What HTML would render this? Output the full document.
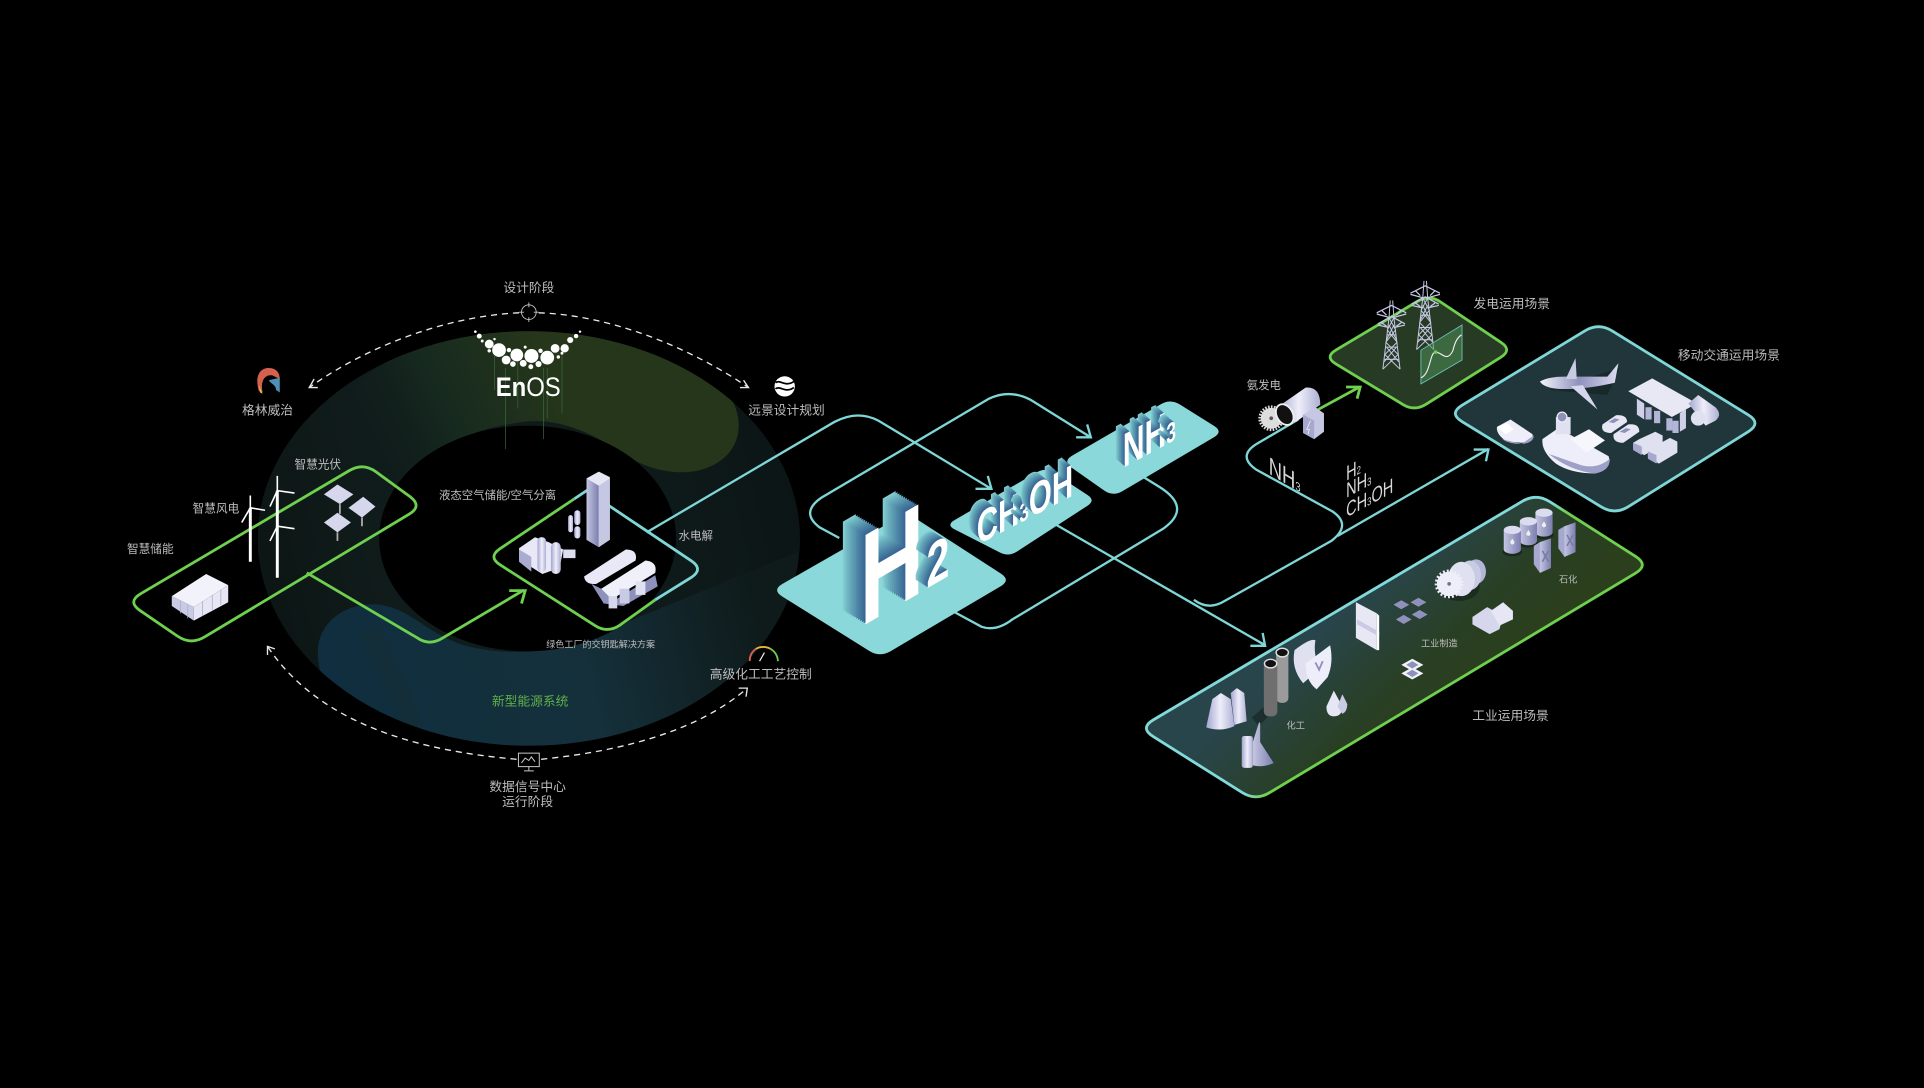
<!DOCTYPE html>
<html><head><meta charset="utf-8"><style>
html,body{margin:0;padding:0;background:#000;width:1924px;height:1088px;overflow:hidden}
svg{position:absolute;left:0;top:0}
svg text{font-family:"Liberation Sans","Noto Sans CJK SC",sans-serif;fill:#bcbcbc;text-anchor:middle;font-size:10.4px}
#o{position:absolute;left:0;top:0;width:1568px;height:887px;transform:scale(1.22704,1.22661);transform-origin:0 0}
.x{position:absolute;left:0;top:0;white-space:nowrap;line-height:0;transform-origin:0 0;color:#fff;font-family:"Liberation Sans",sans-serif;font-weight:bold;
text-shadow:calc(var(--a)*1) calc(var(--b)*1) 0 #3a6894,calc(var(--a)*2) calc(var(--b)*2) 0 #3f7099,calc(var(--a)*3) calc(var(--b)*3) 0 #44789e,calc(var(--a)*4) calc(var(--b)*4) 0 #4a81a3,calc(var(--a)*5) calc(var(--b)*5) 0 #5089a8,calc(var(--a)*6) calc(var(--b)*6) 0 #5692ad,calc(var(--a)*7) calc(var(--b)*7) 0 #5c9bb2,calc(var(--a)*8) calc(var(--b)*8) 0 #62a4b7,calc(var(--a)*9) calc(var(--b)*9) 0 #69adbc,calc(var(--a)*10) calc(var(--b)*10) 0 #70b6c2,calc(var(--a)*11) calc(var(--b)*11) 0 #78c0c8,calc(var(--a)*12) calc(var(--b)*12) 0 #82ccd0}
.x small{font-size:.58em}
</style></head><body>
<svg width="1924" height="1088" viewBox="0 0 1568 887" preserveAspectRatio="none" xmlns="http://www.w3.org/2000/svg">
<defs>
<clipPath id="ring"><path clip-rule="evenodd" d="M210,439a221,169 0 1 0 442,0a221,169 0 1 0 -442,0ZM309,439a121,92 0 1 0 242,0a121,92 0 1 0 -242,0Z"/></clipPath>
<linearGradient id="gb" gradientUnits="userSpaceOnUse" x1="210" x2="652" y1="500" y2="400"><stop offset="0" stop-color="#0c1514"/><stop offset=".25" stop-color="#101c1b"/><stop offset=".7" stop-color="#0f1b1b"/><stop offset="1" stop-color="#0c1515"/></linearGradient>
<linearGradient id="gg" gradientUnits="userSpaceOnUse" x1="300" x2="450" y1="380" y2="310"><stop offset="0" stop-color="#101c1b" stop-opacity="0"/><stop offset=".45" stop-color="#16291f"/><stop offset="1" stop-color="#25361a"/></linearGradient>
<linearGradient id="gl" gradientUnits="userSpaceOnUse" x1="259" x2="640" y1="560" y2="470"><stop offset="0" stop-color="#0f2e3f"/><stop offset=".55" stop-color="#15303b"/><stop offset=".92" stop-color="#0f1b1b"/></linearGradient>
<linearGradient id="gi" gradientUnits="userSpaceOnUse" x1="1090" y1="500" x2="1175" y2="590"><stop offset="0" stop-color="#29454c"/><stop offset=".6" stop-color="#293f25"/><stop offset="1" stop-color="#2b3f1c"/></linearGradient>
<linearGradient id="gs" gradientUnits="userSpaceOnUse" x1="1090" y1="500" x2="1175" y2="590"><stop offset=".45" stop-color="#82d9d9"/><stop offset=".55" stop-color="#6fd04f"/></linearGradient>
<linearGradient id="cy" x1="0" x2="1" y1="0" y2="0"><stop offset="0" stop-color="#a3a5cf"/><stop offset=".5" stop-color="#eeeefa"/><stop offset="1" stop-color="#aeb0d4"/></linearGradient>
<linearGradient id="ba" x1="0" x2="1" y1="0" y2="0"><stop offset="0" stop-color="#c5c6e2"/><stop offset="1" stop-color="#7b7eae"/></linearGradient>
<linearGradient id="pl" x1="0" x2="1" y1="0" y2="0"><stop offset="0" stop-color="#f4f4fc"/><stop offset=".5" stop-color="#8f91bd"/><stop offset="1" stop-color="#dcdcf0"/></linearGradient>
<g id="tw" fill="none" stroke="#c7c9e6" stroke-width=".8">
<path d="M-7,0L-2,-42L-1,-56M7,0L2,-42L1,-56M-7,0L5.4,-12L-4.600,-22L3.400,-32L-2,-42M7,0L-5.400,-12L4.600,-22L-3.400,-32L2,-42M-6,-8H6M-4.800,-18H4.800M-3.600,-28H3.600M-6,-6L4,-18M6,-6L-4,-18M-4,-24L2,-36M4,-24L-2,-36"/>
<path d="M-11,-37L0,-43L11,-37M-12,-46L0,-52L12,-46M-11,-36L-2,-34M11,-36L2,-34M-12,-45L-1,-42M12,-45L1,-42M-8,-38L-4,-35M8,-38L4,-35M-8,-48L-4,-44M8,-48L4,-44" stroke-width="1"/>
</g>
<g id="bar"><ellipse cx="0" cy="10" rx="8" ry="3.500" fill="#000" opacity=".35"/><path d="M-7,-8V8A7,3.500 0 0 0 7,8V-8Z" fill="url(#ba)"/><ellipse cx="0" cy="-8" rx="7" ry="3.400" fill="#dcdcf0"/><path d="M0,-1l1.500,2.400a1.700,1.700 0 1 1 -3,0Z" fill="#eee"/></g>
<g id="can"><path d="M-7,2L-7,-13L-2,-16L7,-19V5L-2,9L-7,2Z" fill="#a6a8cf"/><path d="M-2,-16L-2,9L7,5V-19Z" fill="url(#ba)"/><path d="M0,-9L5,0M5,-9L0,0" stroke="#777aa6" stroke-width="1.200" fill="none"/></g>
</defs>
<rect width="1568" height="887" fill="#000"/>

<g clip-path="url(#ring)">
<rect x="200" y="260" width="460" height="360" fill="url(#gb)"/>
<path d="M260,340C340,260 400,262 431,262C520,262 600,300 602,345C603,372 578,386 553,385C530,384 515,375 500,365C470,345 440,340 420,345C380,350 340,370 310,420Z" fill="url(#gg)"/>
<path d="M259,532C259,505 285,490 310,493C335,497 345,514 375,525C400,533 430,533 460,528L650,450L660,620L300,620C280,590 259,560 259,532Z" fill="url(#gl)"/>
<path d="M292,515L310,510L345,590L330,592Z" fill="#152e31" opacity=".5"/>
</g>

<!-- EnOS logo -->
<g stroke="#3b6b3a" stroke-width=".7" opacity=".8"><path d="M403,290V318M412,300V366M422,292V333M443,300V358M446,300V341M458,290V337"/></g>
<g fill="#fff"><circle cx="406.700" cy="285.400" r="5.600"/><circle cx="421.200" cy="289.400" r="5.200"/><circle cx="433.100" cy="290.200" r="5.700"/><circle cx="446" cy="291.600" r="5.600"/><circle cx="398.700" cy="280.500" r="3.600"/><circle cx="452.400" cy="284" r="3.600"/><circle cx="460.200" cy="284" r="3.400"/><circle cx="464.700" cy="277.200" r="2.500"/><circle cx="469.500" cy="274" r="1.800"/><circle cx="472.700" cy="270.400" r="1"/><circle cx="390.600" cy="274" r="2"/><circle cx="387.400" cy="270.400" r="1.100"/><circle cx="412.500" cy="293.500" r="3.600"/><circle cx="418" cy="296.800" r="2.300"/><circle cx="426.400" cy="296.200" r="2.800"/><circle cx="432.600" cy="299" r="2"/><circle cx="438.900" cy="296.800" r="2.500"/><circle cx="414.800" cy="285.400" r="1.800"/><circle cx="440.500" cy="286" r="1.800"/><circle cx="398.700" cy="286" r="1.400"/><circle cx="455" cy="291" r="1.400"/><circle cx="458" cy="288" r="1.200"/><circle cx="393" cy="278" r="1.200"/><circle cx="403" cy="276.500" r="1"/><circle cx="428" cy="283" r="1.200"/></g>
<text x="430.500" y="323" style="font-size:22px;fill:#fff;font-weight:bold" textLength="53" lengthAdjust="spacingAndGlyphs">En<tspan font-weight="normal">OS</tspan></text>

<!-- dashed arcs -->
<g fill="none" stroke="#e8e8e8" stroke-width="1.100">
<path stroke-dasharray="5 4" d="M423,255C360,258 295,285 252,316"/>
<path stroke-dasharray="5 4" d="M439,255C500,257 565,285 610,316"/>
<path stroke-dasharray="5 4" d="M421,619C340,612 260,590 218,527"/>
<path stroke-dasharray="5 4" d="M441,619C510,612 570,595 609,561"/>
<path d="M256,309L252,316L259,316M606,310L610,316L603,316M218,534L218,527L224,529M602,561L609,561L608,568"/>
<circle cx="431" cy="254.500" r="6" stroke="#ccc" stroke-width=".7"/><path d="M431,246.500v4M431,258.500v4M423,254.500h4M435,254.500h4" stroke="#ccc" stroke-width=".7"/>
<rect x="422.500" y="614" width="17" height="11" stroke="#ccc" stroke-width=".8"/><path d="M425,622l3,-4l3,2l2,-3l3,4M431,625v3M427,628.500h8" stroke="#ccc" stroke-width=".8"/>
</g>

<!-- connector lines -->
<g fill="none" stroke="#7fd6d6" stroke-width="1.900">
<path d="M527,434L680,344Q699,334 716,343L807,398M795,398.500H808L805,388"/>
<path d="M684,438.600L668,430Q652,418 669,406L806,325Q823,317 840,326L888,356M877,356.500H889L886,346"/>
<path d="M776,498L800,511Q812,515 825,505L948,431Q972,414 945,397L932,389"/>
<path d="M861,428L1031,526M1019,526.500H1031L1029,516"/>
<path d="M973,489Q985,498 998,490L1085,441Q1102,428 1086,417L1024,383Q1008,372 1024,362L1058,342"/>
<path d="M1090,437L1213,366M1201,366.500H1213L1211,376"/>
</g>
<g fill="none" stroke="#6fd04f" stroke-width="2.300">
<path d="M250,467L340,520Q350,527 361,520L427,481M415,481.500H428L425,492"/>
<path d="M1074,334L1108,315.500M1097,315.500H1108.500L1106,325"/>
</g>

<!-- plates -->
<path d="M284.800,383.600Q296,377 306.500,384.700L334,404.800Q344.500,412.500 333.400,419.200L166.700,519.300Q155.600,526 144.800,518.700L114.300,497.900Q103.500,490.600 114.700,484Z" fill="none" stroke="#6fd04f" stroke-width="2.300"/>
<path d="M534,489L505,509.800Q495,516.500 484.900,510L407.600,460.500Q397.500,454 407.500,447.300L468,406.700" fill="none" stroke="#6fd04f" stroke-width="2.300"/>
<path d="M468,406.700L478,400L488,406.700L563.500,457.300Q573.500,464 563.500,470.700L534,489" fill="none" stroke="#7fd6d6" stroke-width="2.300"/>
<path d="M637.500,486.300L708.500,530.700Q717,536 725.600,531L815.400,478Q824,473 815.600,467.600L747.400,423.400Q739,418 730.300,423L637.700,476Q629,481 637.500,486.300Z" fill="#8ad8d9"/>
<path d="M778,431.600L814.900,450.400Q822,454 828.700,449.700L886.300,412.300Q893,408 886.300,403.600L858.700,385.400Q852,381 845,385L777.900,424Q771,428 778,431.600Z" fill="#8ad8d9"/>
<path d="M873.300,381.200L899.700,399.800Q907,405 914.800,400.400L989.200,356.600Q997,352 989.400,347.200L961.600,329.800Q954,325 946.200,329.500L873.800,371.500Q866,376 873.300,381.200Z" fill="#8ad8d9"/>
<path d="M1088.700,296.700L1143.400,329.800Q1152.800,335.500 1162.100,329.600L1223.200,291.200Q1232.500,285.300 1223.300,279.200L1173.900,246.100Q1164.700,240 1155.300,245.600L1088.700,285.400Q1079.300,291 1088.700,296.700Z" fill="#273b24" stroke="#6fd04f" stroke-width="2.300"/>
<path d="M1191.600,343.800L1304.900,413.200Q1316,420 1327,413.100L1424.800,351.900Q1435.800,345 1424.700,338.200L1313.900,269.800Q1302.800,263 1291.700,269.700L1191.600,330.300Q1180.500,337 1191.600,343.800Z" fill="#20363a" stroke="#7fd6d6" stroke-width="2.300"/>
<path d="M939.700,600.400L1012.400,646.100Q1023.400,653 1034.500,646.300L1332.900,467.300Q1344,460.600 1333,453.600L1263,409Q1252,402 1240.800,408.600L939.900,586.900Q928.700,593.500 939.700,600.400Z" fill="url(#gi)" stroke="url(#gs)" stroke-width="2.300"/>

<!-- solar, wind, battery -->
<g>
<path d="M264,403L275,395L288,403L277,411Z" fill="#d6d7ec"/><path d="M277,411v8" stroke="#aaa" stroke-width="1.500"/>
<path d="M284,414L296,405L306,413L295,422Z" fill="#d6d7ec"/><path d="M295,422v7" stroke="#aaa" stroke-width="1.500"/>
<path d="M264,426L275,418L286,426L275,434Z" fill="#d6d7ec"/><path d="M275,434v7" stroke="#aaa" stroke-width="1.500"/>
</g>
<g fill="none" stroke="#fff"><path d="M204,414V458M226,400V430M226,429V471" stroke-width="2.400"/><path d="M204,414L204,404M204,414L216,416M204,414L197,426M226,400V388M226,400L240,402M226,400L220,413M226,429V418M226,429L240,431M226,429L220,441" stroke-width="1.300"/></g>
<path d="M140,486L168,468L186,477L158,495Z" fill="#f2f2fa"/><path d="M140,486L158,495V506L140,494Z" fill="#c9cae4"/><path d="M158,495L186,477V491L158,506Z" fill="#e6e6f4"/><path d="M147,490v10M153,493v11M165,490V502M173,485V497M180,481V493" stroke="#a8aacd" stroke-width=".6"/>

<!-- central plant -->
<path d="M478,390L488,384.500L497,389L497,440L488,446L478,440Z" fill="#e6e6f4"/><path d="M478,390L488,396V446L478,440Z" fill="url(#ba)"/><path d="M488,396L497,390V440L488,446Z" fill="#c6c7e2"/>
<rect x="463" y="420" width="4" height="14" rx="2" fill="url(#cy)"/><rect x="468" y="416" width="5" height="12" rx="2.500" fill="url(#cy)"/><rect x="468" y="429" width="5" height="10" rx="2.500" fill="url(#cy)"/>
<path d="M423,447L436,438L447,442L459,448L456,463L442,468L423,456Z" fill="#e8e8f6"/><rect x="438" y="438" width="7" height="28" rx="3" fill="url(#cy)"/><rect x="449" y="442" width="8" height="26" rx="4" fill="url(#cy)"/><path d="M423,448L433,454V466L423,458Z" fill="#a9abd0"/><rect x="459" y="448" width="10" height="7" fill="#dddef0"/>
<path d="M476,470L510,448Q520,448 518,457L486,476Q477,477 476,470Z" fill="#e8e8f6"/><path d="M490,480L526,457Q536,458 534,467L498,489Q490,490 490,480Z" fill="#f0f0fa"/><path d="M482,476L492,492L508,494L522,486L536,478L534,469L500,490L490,480Z" fill="#8f91bd"/><rect x="505" y="480" width="8" height="12" fill="#c9cae4"/><rect x="518" y="474" width="8" height="11" fill="#dfe0f0"/><rect x="496" y="486" width="7" height="10" fill="#d6d7ec"/>

<!-- logos -->
<path d="M211,319C207,305 213,300 219,300C226,300 228,305 228,309L222,306C216,305 212,310 214,320Z" fill="#d4604f"/><path d="M211,314L214,321L212,320Z" fill="#e4c83a"/><path d="M219,310L228,308V320L225,318C225,314 221,313 219,310Z" fill="#4d90b3"/>
<circle cx="639.500" cy="315" r="8.300" fill="#fff"/><path d="M632,312C636,309 640,316 647,311M632,317C636,314 640,321 647,316" stroke="#000" stroke-width="1.400" fill="none"/>
<path d="M611,539A12,12 0 0 1 616,529" fill="none" stroke="#d4604f" stroke-width="1.500"/><path d="M616,529A12,12 0 0 1 628,529" fill="none" stroke="#e4b83a" stroke-width="1.500"/><path d="M628,529A12,12 0 0 1 634,539" fill="none" stroke="#6fd04f" stroke-width="1.500"/><path d="M619,539L623,532" stroke="#eee" stroke-width="1"/>

<!-- turbine -->
<circle cx="1036" cy="341" r="8.500" fill="#ddd" stroke="#ddd" stroke-width="4" stroke-dasharray="1.200 1"/><circle cx="1036" cy="341" r="1.500" fill="#555"/>
<path d="M1041,332L1064,316Q1076,315 1076,330L1056,344Q1045,345 1041,332Z" fill="url(#cy)"/><ellipse cx="1047" cy="338" rx="6.500" ry="9" fill="#111" stroke="#eee" stroke-width="1.500" transform="rotate(-30 1047 338)"/>
<path d="M1062,338L1072,332L1079,337V352L1071,358L1062,353Z" fill="#c6c7e2"/><path d="M1062,338L1071,343V358L1062,353Z" fill="#a6a8cf"/><path d="M1068,343L1065,350H1067L1066,354" stroke="#eee" fill="none" stroke-width=".7"/>

<!-- generation plate -->
<use href="#tw" x="1134" y="301"/><use href="#tw" x="1161.500" y="285"/>
<path d="M1158,285.500L1191.500,265V293.500L1158,313Z" fill="#4f8f55" fill-opacity=".55" stroke="#6fc3c0" stroke-width=".7"/>
<path d="M1158,308C1166,305 1165,287 1170,287C1175,287 1179,296 1184,286C1186,278 1188,275 1191,273" fill="none" stroke="#f0f0f0" stroke-width=".9"/><circle cx="1170" cy="287" r="1.500" fill="#6fd04f"/>

<!-- mobility icons -->
<path d="M1262,318L1320,300L1310,322Z" fill="#000" opacity=".25"/>
<path d="M1255,311Q1262,307 1275,307L1310,307L1319,296L1316,312Q1290,318 1270,317Q1258,316 1255,311Z" fill="url(#pl)"/><path d="M1276,309L1284,292L1285,309Z" fill="#c9cae4"/><path d="M1280,315L1302,334L1290,314Z" fill="#d6d7ec"/>
<path d="M1220,348L1231,342L1249,354Q1250,360 1240,361L1228,360Q1219,354 1220,348Z" fill="#eeeefa"/><path d="M1220,348L1228,345L1234,350L1227,354Z" fill="#fff"/><path d="M1224,358L1240,362L1250,355Q1250,361 1240,362Q1230,362 1224,358Z" fill="#9ea0c8"/>
<path d="M1257,358L1270,349L1311,372Q1314,382 1300,386Q1280,386 1268,378Q1256,368 1257,358Z" fill="#eeeefa"/><path d="M1262,370Q1280,384 1300,386Q1312,384 1312,374Q1300,384 1285,378Q1268,372 1262,370Z" fill="#9ea0c8"/><rect x="1268" y="340" width="12" height="14" fill="#dfe0f0"/><circle cx="1273" cy="340" r="4" fill="#8f91bd" stroke="#eee"/><path d="M1280,358L1295,350L1308,359L1293,369Z" fill="#f6f6fd"/>
<path d="M1327,319L1346.500,308.500L1383,329L1362.500,340Z" fill="#e8e8f5"/><path d="M1334,325V338L1340,342V329ZM1369,337V352L1374,349V333Z" fill="#d0d1e8"/><rect x="1341" y="332" width="5" height="10" fill="#b4b6d8"/><rect x="1348" y="335" width="5" height="10" fill="#b4b6d8"/><rect x="1358" y="341" width="5" height="10" fill="#b4b6d8"/><rect x="1363" y="343" width="5" height="10" fill="#b4b6d8"/>
<path d="M1376,329L1384,322L1398,332Q1404,338 1398,343L1390,347Z" fill="url(#cy)"/><ellipse cx="1384" cy="341" rx="6" ry="6" fill="#dfe0f0"/>
<path d="M1306,346L1317,338.500Q1326,338 1326,344L1313,353Q1304,353 1306,346Z" fill="#e6e6f4"/><path d="M1311,344l5,-3l4,1l-5,3Z" fill="#8f91bd"/><path d="M1315,354L1327,346Q1336,345 1336,352L1323,361Q1314,361 1315,354Z" fill="#e6e6f4"/><path d="M1320,352l5,-3l4,1l-5,3Z" fill="#8f91bd"/>
<path d="M1336,358L1349,352L1355,355V363L1340,371L1331,366V361Z" fill="#dfe0f0"/><path d="M1331,361L1338,364V371L1331,367Z" fill="#a6a8cf"/>
<path d="M1348,364L1361,357L1367,360V369L1352,378L1343,373V368Z" fill="#dfe0f0"/><path d="M1343,368L1350,371V378L1343,374Z" fill="#a6a8cf"/>

<!-- industrial icons -->
<use href="#bar" x="1258.300" y="426"/><use href="#bar" x="1245.600" y="433"/><use href="#bar" x="1232.500" y="440"/>
<use href="#can" x="1277" y="445"/><use href="#can" x="1257" y="458"/>
<ellipse cx="1189" cy="478" rx="17" ry="12" fill="#000" opacity=".3"/>
<ellipse cx="1203" cy="466" rx="8" ry="10" fill="#b4b6d8"/><ellipse cx="1198" cy="469" rx="9" ry="12" fill="#c9cae4"/><ellipse cx="1191" cy="472" rx="11" ry="14" fill="#dfe0f0"/><circle cx="1181" cy="476" r="10" fill="#eeeefa" stroke="#eeeefa" stroke-width="3.500" stroke-dasharray="1.500 1.500"/><circle cx="1181" cy="476" r="1.500" fill="#777"/>
<path d="M1200,503L1212,495L1225,502L1222,513L1214,517L1200,509Z" fill="#d6d7ec"/><path d="M1215,498L1225,491L1233,498V505L1222,510Z" fill="#e6e6f4"/>
<g fill="#8f91bd" stroke="#2a3d2a" stroke-width=".5"><path d="M1135,493l7,-4l7,4l-7,4Z"/><path d="M1149,491l7,-4l7,4l-7,4Z"/><path d="M1137,505l7,-4l7,4l-7,4Z"/><path d="M1150,501l7,-4l7,4l-7,4Z"/></g>
<path d="M1105,491L1122,500V530L1105,520Z" fill="#e8e8f5"/><path d="M1106,505L1124,515V519L1106,509Z" fill="#c9cae4"/><path d="M1122,500L1124,502V530L1122,530Z" fill="#fff"/>
<path d="M1142,542l9,-5l9,5l-9,5ZM1142,549l9,-5l9,5l-9,5Z" fill="#f2f2fa"/><path d="M1146,542l5,-3l5,3l-5,3ZM1146,549l5,-3l5,3l-5,3Z" fill="#8f91bd"/>
<path d="M1055,530Q1068,520 1072,522Q1070,535 1076,545L1062,557Q1052,545 1055,530Z" fill="#dfe0f0"/><path d="M1064,541L1084,526Q1087,540 1082,552L1073,562Q1064,555 1064,541Z" fill="#eeeefa"/><path d="M1072,540l3,6l3,-7" stroke="#8f91bd" fill="none" stroke-width="1.500"/>
<path d="M1087,563L1081,576Q1081,584 1087,584Q1094,584 1094,576Z" fill="#e6e6f4"/><path d="M1094,566L1090,576L1094,582Q1098,580 1098,574Z" fill="#c9cae4"/>
<path d="M1020,585L1034,573L1040,577L1026,592Z" fill="#000" opacity=".3"/>
<rect x="1040" y="529" width="10" height="44" rx="4" fill="#9b9b9b"/><ellipse cx="1045" cy="532" rx="5" ry="3.500" fill="#111" stroke="#ddd" stroke-width="1.200"/><rect x="1030" y="540" width="11" height="44" rx="4" fill="#6f6f6f"/><ellipse cx="1035.500" cy="541" rx="5" ry="3.500" fill="#111" stroke="#ddd" stroke-width="1.200"/>
<path d="M1003,565L1008,561L1014,565L1016,588L1006,591Z" fill="url(#cy)"/><path d="M988,570L995,565L1003,570L1006,592Q995,597 983,593Z" fill="url(#cy)"/>
<rect x="1012" y="600" width="9" height="26" rx="2" fill="url(#cy)"/><path d="M1027,589V605L1038,622Q1030,626 1021,624V605L1026,589Z" fill="url(#ba)"/>

<!-- labels -->
<text x="431" y="238">设计阶段</text>
<text x="218" y="338">格林威治</text>
<text x="641" y="338">远景设计规划</text>
<text x="259" y="382" style="font-size:9.500px">智慧光伏</text>
<text x="176" y="418" style="font-size:9.500px">智慧风电</text>
<text x="122.500" y="451" style="font-size:9.500px">智慧储能</text>
<text x="405.500" y="407" style="font-size:9.300px">液态空气储能/空气分离</text>
<text x="567" y="440" style="font-size:9.400px">水电解</text>
<text x="489.500" y="528" style="font-size:7.400px">绿色工厂的交钥匙解决方案</text>
<text x="620" y="553">高级化工工艺控制</text>
<text x="432" y="575" style="fill:#5fb04a">新型能源系统</text>
<text x="430" y="645">数据信号中心</text>
<text x="430" y="657">运行阶段</text>
<text x="1030" y="317" style="font-size:9.300px">氨发电</text>
<text x="1232" y="251">发电运用场景</text>
<text x="1409" y="293">移动交通运用场景</text>
<text x="1231" y="587">工业运用场景</text>
<text x="1056" y="594" style="font-size:7.500px">化工</text>
<text x="1173" y="527" style="font-size:7.500px">工业制造</text>
<text x="1278" y="475" style="font-size:7.500px">石化</text>
<g>
<text transform="matrix(.75,.45,0,1,1034,386)" style="font-size:20px;text-anchor:start;fill:#d8d8d8">NH<tspan style="font-size:10px">3</tspan></text>
<text transform="matrix(.7,-.38,0,1,1097,392)" style="font-size:17px;text-anchor:start;fill:#d8d8d8">H<tspan style="font-size:9px">2</tspan></text>
<text transform="matrix(.7,-.38,0,1,1097,406)" style="font-size:17px;text-anchor:start;fill:#d8d8d8">NH<tspan style="font-size:9px">3</tspan></text>
<text transform="matrix(.7,-.38,0,1,1097,422)" style="font-size:17px;text-anchor:start;fill:#d8d8d8">CH<tspan style="font-size:9px">3</tspan>OH</text>
</g>
</svg>
<div id="o">
<div class="x" style="font-size:106px;--a:-2.23px;--b:-1.8px;transform:matrix(.69,-.4,0,1,700.500,475.900)">H</div>
<div class="x" style="font-size:49px;--a:-1.200px;--b:-1px;transform:matrix(.69,-.4,0,1,755,464)">2</div>
<div class="x" style="font-size:37px;--a:-.95px;--b:-.85px;transform:matrix(.65,-.336,0,1,796,432.500)">CH<small>3</small>OH</div>
<div class="x" style="font-size:39px;--a:-.95px;--b:-.85px;transform:matrix(.63,-.34,0,1,915,369.500)">NH<small>3</small></div>
</div>
</body></html>
